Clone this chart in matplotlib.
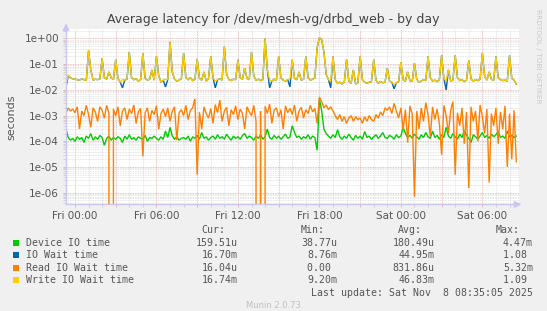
import matplotlib
matplotlib.use("Agg")
import matplotlib.pyplot as plt
import matplotlib.dates as mdates
from matplotlib.patches import FancyArrowPatch
from matplotlib.ticker import LogLocator, FuncFormatter, NullFormatter
import pandas as pd

# 数据：10 分钟一个点，从 Thu 23:20 开始
start = "2025-11-06 23:20"
n_points = 200

device_io = [
    3.2e-4, 1.4e-4, 1.1e-4, 1.3e-4,
    1.0e-4, 1.5e-4, 1.2e-4, 1.4e-4, 9e-5, 1.6e-4,
    1.3e-4, 2.0e-4, 1.1e-4, 1.5e-4, 1.2e-4, 1.7e-4,
    1.4e-4, 7e-5, 1.3e-4, 1.6e-4, 1.1e-4, 1.4e-4,
    1.2e-4, 1.5e-4, 1.3e-4, 9e-5, 1.6e-4, 1.2e-4,
    1.8e-4, 1.2e-4, 1.4e-4, 1.1e-4, 1.5e-4, 1.3e-4,
    1.2e-4, 1.7e-4, 1.0e-4, 1.4e-4, 1.3e-4, 1.6e-4,
    1.3e-4, 1.1e-4, 1.5e-4, 1.2e-4, 2.5e-4, 1.4e-4,
    3.5e-4, 1.6e-4, 1.2e-4, 1.5e-4, 1.1e-4, 1.3e-4,
    1.4e-4, 1.2e-4, 1.6e-4, 1.0e-4, 1.5e-4, 1.3e-4,
    1.7e-4, 1.2e-4, 2.2e-4, 1.3e-4, 1.5e-4, 1.1e-4,
    1.4e-4, 1.6e-4, 1.2e-4, 1.8e-4, 1.3e-4, 1.5e-4,
    1.2e-4, 1.9e-4, 1.4e-4, 1.1e-4, 1.6e-4, 1.3e-4,
    1.5e-4, 1.2e-4, 1.7e-4, 2.0e-4, 1.3e-4, 1.6e-4,
    1.4e-4, 1.1e-4, 1.6e-4, 1.3e-4, 1.8e-4, 1.2e-4,
    1.5e-4, 3.0e-4, 1.4e-4, 1.2e-4, 1.7e-4, 1.3e-4,
    1.6e-4, 1.2e-4, 1.5e-4, 1.9e-4, 1.3e-4, 1.5e-4,
    4.0e-4, 2.2e-4, 1.4e-4, 1.6e-4, 1.2e-4, 1.5e-4,
    1.3e-4, 1.8e-4, 1.2e-4, 1.6e-4, 1.4e-4, 4.5e-5,
    4.47e-3, 1.5e-3, 3.0e-4, 2.0e-4, 1.6e-4, 1.3e-4,
    1.8e-4, 1.4e-4, 2.8e-4, 1.5e-4, 1.2e-4, 1.6e-4,
    1.3e-4, 1.9e-4, 1.4e-4, 1.1e-4, 1.7e-4, 1.3e-4,
    1.6e-4, 1.2e-4, 2.4e-4, 1.4e-4, 1.6e-4, 1.2e-4,
    1.5e-4, 1.8e-4, 1.3e-4, 1.6e-4, 2.2e-4, 1.4e-4,
    1.3e-4, 1.7e-4, 1.5e-4, 1.2e-4, 1.8e-4, 1.4e-4,
    1.6e-4, 3.5e-4, 2.0e-4, 1.4e-4, 1.7e-4, 1.3e-4,
    1.9e-4, 1.5e-4, 1.2e-4, 1.8e-4, 1.4e-4, 2.2e-4,
    1.5e-4, 1.3e-4, 2.5e-4, 1.4e-4, 1.7e-4, 1.2e-4,
    1.8e-4, 1.4e-4, 3.5e-4, 1.6e-4, 1.3e-4, 2.0e-4,
    1.5e-4, 1.2e-4, 1.9e-4, 1.4e-4, 2.6e-4, 1.7e-4,
    1.3e-4, 9e-5, 1.8e-4, 1.5e-4, 1.2e-4, 1.6e-4,
    2.2e-4, 1.4e-4, 1.7e-4, 1.3e-4, 1.9e-4, 1.5e-4,
    1.8e-4, 2.4e-4, 1.4e-4, 1.6e-4, 1.3e-4, 2.5e-4,
    1.5e-4, 1.7e-4, 1.4e-4, 1.6e-4,
]

io_wait = [
    0.012, 0.036, 0.03, 0.027,
    0.026, 0.025, 0.024, 0.027, 0.025, 0.023,
    0.34, 0.06, 0.024, 0.026, 0.025, 0.027,
    0.17, 0.03, 0.026, 0.05, 0.03, 0.025,
    0.15, 0.028, 0.02, 0.012, 0.024, 0.026,
    0.3, 0.03, 0.025, 0.027, 0.022, 0.025,
    0.27, 0.028, 0.024, 0.026, 0.06, 0.024,
    0.2, 0.035, 0.02, 0.024, 0.013, 0.025,
    0.74, 0.05, 0.026, 0.022, 0.024, 0.027,
    0.27, 0.03, 0.025, 0.03, 0.023, 0.026,
    0.16, 0.028, 0.024, 0.05, 0.022, 0.027,
    0.2, 0.03, 0.012, 0.025, 0.027, 0.024,
    0.48, 0.04, 0.025, 0.023, 0.026, 0.025,
    0.15, 0.03, 0.026, 0.07, 0.028, 0.025,
    0.3, 0.035, 0.024, 0.026, 0.023, 0.025,
    0.99, 0.06, 0.012, 0.022, 0.026, 0.024,
    0.2, 0.03, 0.024, 0.022, 0.025, 0.013,
    0.15, 0.028, 0.025, 0.05, 0.024, 0.026,
    0.2, 0.03, 0.024, 0.026, 0.03, 0.44,
    1.08, 0.9, 0.3, 0.04, 0.025, 0.012,
    0.2, 0.025, 0.018, 0.02, 0.017, 0.02,
    0.15, 0.022, 0.018, 0.06, 0.017, 0.019,
    0.2, 0.025, 0.02, 0.018, 0.02, 0.021,
    0.15, 0.024, 0.018, 0.021, 0.019, 0.02,
    0.07, 0.022, 0.02, 0.011, 0.019, 0.021,
    0.12, 0.025, 0.022, 0.05, 0.023, 0.021,
    0.11, 0.026, 0.02, 0.022, 0.025, 0.023,
    0.2, 0.03, 0.022, 0.024, 0.021, 0.025,
    0.22, 0.028, 0.01, 0.06, 0.022, 0.024,
    0.22, 0.03, 0.023, 0.025, 0.021, 0.024,
    0.14, 0.027, 0.022, 0.025, 0.023, 0.026,
    0.27, 0.035, 0.024, 0.05, 0.026, 0.023,
    0.2, 0.03, 0.025, 0.023, 0.024, 0.022,
    0.22, 0.028, 0.024, 0.0167,
]

read_wait = [
    1.2e-3, 2.0e-3, 1.5e-3, 1.8e-3,
    1.3e-3, 2.2e-3, 3e-4, 1.5e-3, 1.0e-3, 2.5e-3,
    1.1e-3, 3.5e-4, 2.0e-3, 1.4e-3, 6e-4, 2.2e-3,
    1.6e-3, 8e-4, 2.5e-3, 1.2e-3, 0.0, 1.8e-3,
    1.0e-3, 2.2e-3, 4e-4, 1.5e-3, 2.0e-3, 7e-4,
    1.8e-3, 1.2e-3, 2.6e-3, 5e-4, 1.4e-3, 1.9e-3,
    2.6e-5, 1.3e-3, 2.0e-3, 6e-4, 1.6e-3, 1.1e-3,
    2.4e-3, 3e-4, 1.2e-3, 1.8e-3, 9e-4, 2.0e-3,
    6e-4, 1.5e-3, 2.2e-3, 1.1e-4, 1.3e-3, 1.7e-3,
    1.0e-3, 2.5e-3, 7e-4, 1.6e-3, 2.0e-3, 4.5e-3,
    5e-6, 1.4e-3, 3e-4, 2.2e-3, 1.2e-3, 8e-4,
    1.9e-3, 5e-4, 2.7e-3, 1.3e-3, 4.0e-3, 6e-4,
    1.5e-3, 2.1e-3, 4e-4, 1.7e-3, 1.1e-3, 2.4e-3,
    7e-4, 1.8e-3, 1.2e-3, 3e-4, 2.2e-3, 1.4e-3,
    1.0e-3, 2.5e-3, 6e-4, 0.0, 1.5e-3, 0.0,
    2.3e-3, 1.2e-3, 2.8e-3, 5e-4, 1.6e-3, 2.0e-3,
    9e-4, 1.7e-3, 3e-4, 2.4e-3, 1.3e-3, 1.9e-3,
    1.1e-3, 2.6e-3, 6e-4, 1.5e-3, 2.1e-3, 8e-4,
    1.7e-3, 1.2e-3, 2.5e-3, 1.4e-3, 1.9e-3, 5e-4,
    5.3e-3, 3.5e-3, 2.0e-3, 2.6e-3, 1.7e-3, 2.2e-3,
    1.5e-3, 1.0e-3, 7e-4, 1.1e-3, 6e-4, 9e-4,
    5e-4, 8e-4, 1.0e-3, 6e-4, 9e-4, 7e-4,
    8e-4, 5e-4, 9e-4, 6e-4, 1.0e-3, 7e-4,
    6e-4, 1.1e-3, 8e-4, 1.4e-3, 1.0e-3, 2.0e-3,
    1.6e-3, 2.2e-3, 1.2e-3, 3.0e-3, 1.5e-3, 8e-4,
    2.0e-3, 2.8e-4, 1.7e-3, 9e-5, 2.4e-3, 1.2e-3,
    7e-7, 1.5e-3, 3e-4, 2.0e-3, 6e-4, 3.2e-3,
    1.1e-3, 1.5e-4, 2.2e-3, 7e-4, 1.8e-3, 5e-4,
    3e-5, 2.5e-3, 1.0e-3, 2e-4, 1.6e-3, 3.5e-3,
    5e-6, 1.3e-3, 4e-4, 2.0e-3, 8e-5, 1.4e-3,
    1.5e-6, 2.2e-3, 6e-4, 1.5e-3, 1.0e-4, 2.6e-3,
    9e-4, 2e-4, 1.8e-3, 2.5e-6, 1.2e-3, 4e-4,
    2.0e-3, 8e-5, 1.4e-3, 3e-4, 2.4e-3, 1e-5,
    1.2e-3, 2e-5, 1.6e-3, 1.6e-5,
]

write_wait = [
    0.018, 0.038, 0.03, 0.027,
    0.026, 0.025, 0.024, 0.027, 0.025, 0.023,
    0.35, 0.06, 0.024, 0.026, 0.025, 0.027,
    0.17, 0.03, 0.026, 0.05, 0.03, 0.025,
    0.15, 0.028, 0.02, 0.025, 0.024, 0.026,
    0.3, 0.03, 0.025, 0.027, 0.022, 0.025,
    0.27, 0.028, 0.024, 0.026, 0.06, 0.024,
    0.2, 0.035, 0.02, 0.024, 0.026, 0.025,
    0.75, 0.05, 0.026, 0.022, 0.024, 0.027,
    0.27, 0.03, 0.025, 0.03, 0.023, 0.026,
    0.16, 0.028, 0.024, 0.05, 0.022, 0.027,
    0.2, 0.03, 0.022, 0.025, 0.027, 0.024,
    0.48, 0.04, 0.025, 0.023, 0.026, 0.025,
    0.15, 0.03, 0.026, 0.07, 0.028, 0.025,
    0.3, 0.035, 0.024, 0.026, 0.023, 0.025,
    1.0, 0.06, 0.025, 0.022, 0.026, 0.024,
    0.2, 0.03, 0.024, 0.022, 0.025, 0.027,
    0.15, 0.028, 0.025, 0.05, 0.024, 0.026,
    0.2, 0.03, 0.024, 0.026, 0.03, 0.45,
    1.09, 0.9, 0.3, 0.04, 0.025, 0.022,
    0.2, 0.025, 0.018, 0.02, 0.017, 0.02,
    0.15, 0.022, 0.018, 0.06, 0.017, 0.019,
    0.2, 0.025, 0.02, 0.018, 0.02, 0.021,
    0.15, 0.024, 0.018, 0.021, 0.019, 0.02,
    0.07, 0.022, 0.02, 0.016, 0.019, 0.021,
    0.12, 0.025, 0.022, 0.05, 0.023, 0.021,
    0.11, 0.026, 0.02, 0.022, 0.025, 0.023,
    0.2, 0.03, 0.022, 0.024, 0.021, 0.025,
    0.22, 0.028, 0.022, 0.06, 0.022, 0.024,
    0.22, 0.03, 0.023, 0.025, 0.021, 0.024,
    0.14, 0.027, 0.022, 0.025, 0.023, 0.026,
    0.27, 0.035, 0.024, 0.05, 0.026, 0.023,
    0.2, 0.03, 0.025, 0.023, 0.024, 0.022,
    0.22, 0.028, 0.024, 0.01674,
]

series_names = ["Device IO time", "IO Wait time", "Read IO Wait time", "Write IO Wait time"]
series_colors = ["#00CC00", "#0066B3", "#FF8000", "#FFCC00"]
cur_vals = ["159.51u", "16.70m", "16.04u", "16.74m"]
min_vals = ["38.77u", "8.76m", "0.00 ", "9.20m"]
avg_vals = ["180.49u", "44.95m", "831.86u", "46.83m"]
max_vals = ["4.47m", "1.08 ", "5.32m", "1.09 "]

W, H = 547, 311
BG = "#F0F0F0"
TXT = "#555555"
AXC = "#C8C8F0"

times = pd.date_range(start, periods=n_points, freq="10min")

fig = plt.figure(figsize=(W / 100, H / 100), dpi=100, facecolor=BG)
ax = fig.add_axes([66 / W, 1 - 204.4 / H, 452.8 / W, 175.1 / H])
ax.set_facecolor("white")

for vals, c in zip([device_io, io_wait, read_wait, write_wait], series_colors):
    ax.plot(times, vals, color=c, lw=1.0, solid_joinstyle="miter")

ax.set_yscale("log", nonpositive="clip")
ax.set_ylim(3.5e-7, 2.28)
ax.set_xlim(pd.Timestamp("2025-11-06 23:20:24"), pd.Timestamp("2025-11-08 08:41:00"))

# 网格
ax.yaxis.set_major_locator(LogLocator(base=10, numticks=20))
ax.yaxis.set_minor_locator(LogLocator(base=10, subs=range(2, 10), numticks=20))
ax.yaxis.set_major_formatter(FuncFormatter(lambda v, p: f"{v:.0e}"))
ax.yaxis.set_minor_formatter(NullFormatter())

ax.xaxis.set_major_locator(mdates.HourLocator(byhour=range(0, 24, 3)))
ax.xaxis.set_minor_locator(mdates.HourLocator())
ax.xaxis.set_major_formatter(FuncFormatter(
    lambda v, p: mdates.num2date(v).strftime("%a %H:%M") if mdates.num2date(v).hour % 6 == 0 else ""))

ax.grid(which="minor", color="#DDDDDD", lw=0.6, ls=(0, (1, 1)))
ax.grid(which="major", color="#E8A8A8", lw=0.6, ls=(0, (1, 1)))
ax.set_axisbelow(True)

for s in ["top", "right"]:
    ax.spines[s].set_visible(False)
for s in ["left", "bottom"]:
    ax.spines[s].set_color(AXC)
    ax.spines[s].set_linewidth(1.0)

ax.tick_params(which="both", length=2, width=0.6, colors="#E8A8A8", labelcolor=TXT, labelsize=7.5, pad=3)
ax.tick_params(which="minor", colors="#CCCCCC")

# 坐标轴箭头
for a, b in [((0, 0.98), (0, 1.05)), ((0.99, 0), (1.012, 0))]:
    ax.add_patch(FancyArrowPatch(a, b, transform=ax.transAxes, clip_on=False,
                                 arrowstyle="-|>,head_length=0.4,head_width=0.2",
                                 color=AXC, lw=1.0, mutation_scale=10))

ax.set_ylabel("seconds", color=TXT, fontsize=8, labelpad=6)


def px(x, y):
    return x / W, 1 - y / H


fig.text(*px(273, 20), "Average latency for /dev/mesh-vg/drbd_web - by day",
         ha="center", va="center", fontsize=9, color="#444444")
fig.text(*px(538, 56), "RRDTOOL / TOBI OETIKER", rotation=270, ha="center", va="center",
         fontsize=5.3, color="#C8C8C8")

mono = dict(family="DejaVu Sans Mono", fontsize=7.1, color=TXT, va="center")
for x, lab in zip([225.4, 324.5, 422, 520], ["Cur:", "Min:", "Avg:", "Max:"]):
    fig.text(*px(x, 229.9), lab, ha="right", **mono)

rows_y = [242.5, 255.0, 267.6, 280.2]
for i, y in enumerate(rows_y):
    fig.patches.append(plt.Rectangle(px(13.3, y + 3), 6 / W, 6 / H, transform=fig.transFigure,
                                     facecolor=series_colors[i], edgecolor="none"))
    fig.text(*px(26.2, y), series_names[i], ha="left", **mono)
    fig.text(*px(238, y), cur_vals[i], ha="right", **mono)
    fig.text(*px(337, y), min_vals[i], ha="right", **mono)
    fig.text(*px(434.7, y), avg_vals[i], ha="right", **mono)
    fig.text(*px(533, y), max_vals[i], ha="right", **mono)

fig.text(*px(533, 292.7), "Last update: Sat Nov  8 08:35:05 2025", ha="right", **mono)
fig.text(*px(273, 305), "Munin 2.0.73", ha="center", va="center", fontsize=6, color="#C0C0C0")

fig.savefig("out.png", dpi=100, facecolor=BG)
